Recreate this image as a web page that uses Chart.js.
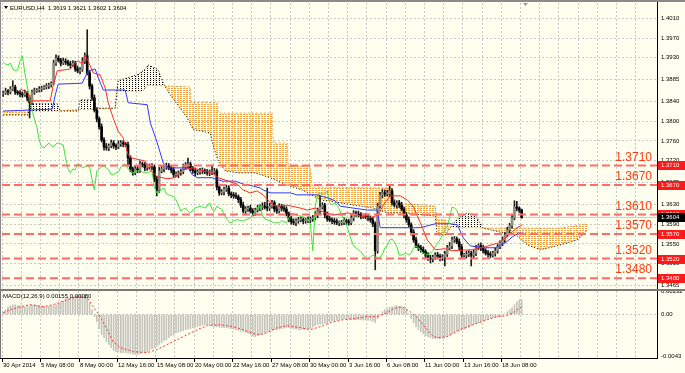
<!DOCTYPE html>
<html>
<head>
<meta charset="utf-8">
<script src="https://cdn.jsdelivr.net/npm/chart.js@4.4.1/dist/chart.umd.min.js"></script>
<style>
  html, body { margin: 0; padding: 0; background: #fffff0; }
  #wrap { position: relative; width: 685px; height: 373px; overflow: hidden; background: #fffff0; }
  #main { position: absolute; left: 0; top: 0; }
  #macd { position: absolute; left: 0; top: 289px; }
</style>
</head>
<body>
<div id="wrap">
  <canvas id="main" width="685" height="289"></canvas>
  <canvas id="macd" width="685" height="84"></canvas>
</div>
<script>
// EURUSD H4, prices kept in pips above 1.3000
const closePips = [
  858,862,860,866,870,860,858,856,854,858,
  848,838,860,862,864,866,868,870,872,874,
  878,919,929,925,919,923,921,917,915,919,
  907,903,905,923,934,899,872,848,823,805,
  789,762,748,746,750,756,750,748,754,756,
  754,752,725,703,695,703,701,713,711,705,
  707,709,707,682,660,699,703,707,709,705,
  701,691,691,695,697,707,711,713,703,699,
  695,697,699,699,697,695,695,697,699,666,
  654,656,662,664,652,650,648,646,640,629,
  617,621,623,617,613,619,623,625,627,625,
  623,627,634,621,617,627,623,621,611,601,
  595,593,597,599,599,597,597,599,601,603,
  609,617,625,629,609,601,599,597,595,593,
  593,593,597,595,593,603,613,611,609,607,
  607,605,603,599,591,536,627,650,654,652,
  652,658,634,629,634,629,621,609,599,589,
  574,558,546,542,538,534,527,521,519,523,
  527,525,521,523,529,542,546,558,560,554,
  544,527,527,529,531,527,531,542,546,542,
  536,531,529,527,531,536,544,552,558,568,
  578,587,603,625,623,619,604
];
const firstOpenPips = 856;
const wickUpPips = [
  4,6,3,5,13,4,3,5,4,6, 3,5,4,6,3,5,4,3,5,4,
  3,6,7,5,4,6,5,4,6,5, 4,6,5,7,6,53,5,4,6,5,
  4,6,5,7,4,6,5,4,6,5, 4,3,6,5,4,7,5,6,4,5,
  6,4,5,4,6,7,5,4,6,5, 4,5,6,4,5,6,5,12,4,5,
  6,4,5,6,4,5,6,14,5,4, 6,5,4,6,5,4,5,6,4,5,
  6,5,4,6,5,4,6,5,7,8, 39,6,5,4,6,5,4,6,5,4,
  5,6,4,5,6,4,5,6,4,5, 7,6,23,5,4,6,5,4,5,6,
  4,5,6,4,5,6,5,4,6,5, 4,5,6,4,5,4,6,5,7,6,
  8,10,5,6,4,5,6,4,5,6, 4,5,6,4,5,6,4,5,6,4,
  5,6,4,5,6,5,7,6,5,4, 6,5,4,6,5,4,6,5,4,6,
  5,4,6,5,4,6,5,4,6,5, 6,5,7,13,12,3,2
];
const wickDnPips = [
  5,3,6,4,3,5,4,6,5,3, 6,31,4,5,3,4,5,3,4,5,
  4,3,5,4,6,3,5,4,6,3, 5,4,6,3,5,4,6,5,4,6,
  5,4,7,5,6,4,5,6,4,5, 6,4,16,6,5,4,6,5,4,6,
  5,4,6,5,12,5,4,6,5,4, 6,5,4,6,5,4,5,6,4,5,
  6,4,5,6,4,5,6,4,5,6, 5,4,6,5,4,6,5,4,6,5,
  4,6,5,4,6,5,4,6,5,4, 6,5,4,6,5,4,6,5,4,6,
  5,4,6,5,4,6,5,4,6,5, 4,6,5,4,6,5,4,6,5,4,
  6,5,4,6,5,4,6,5,4,6, 5,4,6,5,6,39,5,4,6,5,
  4,6,5,4,6,5,4,6,5,4, 6,5,4,6,5,4,6,5,8,6,
  5,4,6,5,18,5,4,6,5,4, 6,5,4,6,5,22,6,5,4,6,
  5,4,6,5,4,6,5,4,6,5, 4,6,5,4,6,5,2
];

// Ichimoku lines, read as vertices (bar index, pips)
const tenkanBars = [7.1,10.4,11.3,12.1,19.6,20.8,22.5,27.9,30.8,32.9,34.2,35.4,37.5,40.4,42.5,43.8,45.8,47.9,50,52.1,53.8,59.2,60.4,64.2,68.3,71.7,74.6,78.8,83.3,87.1,89.6,93.8,97.5,100,102.9,105.8,108.3,112.5,115.4,118.3,123.8,126.7,130,132.1,137.5,143.8,148.8,152.9,156.3,158.3,161.3,165.4,168.3,170.8,173.8,176.7,180,184.2,187.1,195.4,200.8,206.3,210.4,213.3,216.3];
const tenkanPips = [866,858,838,842,842,872,903,907,923,919,934,923,899,895,868,838,807,780,766,731,725,719,705,687,683,685,701,705,699,695,685,678,672,660,654,658,650,629,627,629,623,619,623,617,609,613,607,603,609,629,648,648,640,627,593,558,538,540,536,538,544,552,566,580,589];
const kijunBars = [0,20.4,21.7,22.9,32.9,35.4,38.3,39.6,41.7,50.8,52.1,60,61.3,64.2,66.7,68.3,77.1,78.8,80.8,87.1,91.3,96.7,100,104.2,107.1,108.3,111.3,119.6,122.5,130.8,135,138.3,140.4,145.8,151.7,155.8,157.1,173.8,180,186.3,189.2,191.7,194.6,199.6,205,209.2,212.1,214.6,216.3];
const kijunPips = [821,825,854,876,878,903,907,889,864,864,838,834,797,756,715,705,705,691,685,685,678,678,672,668,664,660,654,654,650,650,644,638,627,623,619,619,583,583,591,591,589,562,546,542,542,552,564,572,572];
const spanABars = [0,10.4,11.25,22.5,23.75,31.25,32.1,37.5,38.75,46.7,47.9,51.7,55.8,58.3,60.4,63.3,64.6,66.7,69.6,73.75,76.7,79.2,82.9,86.25,87.5,89.6,92.5,97.9,105,111.25,118.3,124.6,132.1,154.2,160.4,165.4,180,180.8,184.2,187.1,189.6,193.3,196.7,200,207.1,214.2,218.3,223.75,230.8,239.2,243.3];
const spanAPips = [813,813,836,836,821,821,844,844,827,827,883,889,895,903,915,909,905,878,854,827,807,783,780,776,750,719,699,695,695,685,670,660,640,623,613,613,607,568,568,589,603,613,609,582,574,566,548,538,546,558,578];
const spanBBars = [0,22.5,26.7,46.7,47.1,58.3,60,77.9,78.3,89.2,89.6,112.1,112.5,118.3,118.75,127.9,128.75,162.1,162.9,180,180.8,184.2,185,200,232.1,243.3];
const spanBPips = [821,821,823,827,862,862,874,870,838,838,817,817,756,756,709,709,666,664,634,627,599,599,585,582,582,591];
const chikouShift = 26;

// MACD(12,26,9), histogram per bar in 1e-5
const macdHist = [
  28,49,79,90,100,100,90,90,84,79, 79,90,100,100,95,90,90,84,79,84,
  90,90,100,110,120,140,161,171,176,181, 191,196,202,202,202,171,120,49,-22,-73,
  -145,-206,-236,-277,-307,-338,-368,-379,-384,-389, -389,-389,-394,-399,-404,-409,-409,-399,-389,-384,
  -379,-363,-348,-338,-328,-307,-287,-267,-257,-236, -216,-206,-185,-180,-175,-165,-155,-150,-145,-134,
  -129,-124,-114,-109,-104,-104,-109,-114,-124,-124, -129,-134,-134,-134,-139,-145,-150,-155,-165,-170,
  -175,-185,-190,-206,-221,-226,-216,-206,-195,-185, -175,-165,-160,-155,-155,-150,-145,-139,-134,-134,
  -139,-145,-150,-155,-155,-150,-150,-145,-145,-129, -114,-104,-99,-94,-89,-83,-73,-68,-63,-58,
  -53,-48,-43,-43,-48,-53,-53,-53,-53,-53, -58,-53,-58,-63,-68,-83,-43,-2,29,49,
  59,74,79,84,90,84,79,69,49,8, -43,-83,-124,-155,-175,-195,-216,-226,-236,-246,
  -246,-246,-246,-241,-231,-226,-216,-195,-185,-170, -160,-155,-150,-139,-129,-114,-104,-94,-83,-73,
  -63,-53,-43,-38,-33,-27,-22,-17,-2,8, 29,49,69,100,130,151,155
];
const signalBars = [0,2.9,7.1,11.25,16.7,20.8,26.7,30.8,35,37.5,40.4,43.3,45.8,48.75,54.2,60,64.2,68.3,72.5,76.7,80.8,85,90.4,95.8,100,104.2,107.1,110,114.2,118.3,123.75,127.9,132.1,136.25,141.7,145.8,151.7,155.8,160,162.5,166.25,169.6,172.5,176.7,179.2,182.1,185,190.4,195.8,201.7,205.8,210,212.5,216];
const signalVals = [18,49,79,100,79,100,151,181,171,79,-22,-155,-277,-338,-379,-389,-358,-307,-257,-206,-155,-114,-104,-124,-155,-195,-206,-185,-134,-114,-134,-155,-124,-83,-53,-43,-22,-22,18,59,79,29,-33,-155,-226,-236,-226,-155,-104,-53,-22,-12,18,80];

const levels = [1.3710, 1.3670, 1.3610, 1.3570, 1.3520, 1.3480];
const priceTicks = [1.4010, 1.3970, 1.3930, 1.3885, 1.3840, 1.3800, 1.3760, 1.3720, 1.3675, 1.3630, 1.3590, 1.3550, 1.3510, 1.3465];
const macdTicks = [0.00232, 0, -0.0043];
const macdTickLabels = ['0.00232', '0.00', '-0.0043'];
const timeLabels = ['30 Apr 2014','5 May 08:00','8 May 00:00','12 May 16:00','15 May 08:00','20 May 00:00','22 May 16:00','27 May 08:00','30 May 00:00','3 Jun 16:00','6 Jun 08:00','11 Jun 00:00','13 Jun 16:00','18 Jun 08:00'];

const X_MIN = -0.5, X_MAX = 272.4;
const gridBars = [];
for (let v = X_MIN; v < 270; v += 8) gridBars.push(v);

const toPrice = p => +(1.3 + p / 10000).toFixed(4);
const closes = closePips.map(toPrice);
const openPips = closePips.map((c, i) => i ? closePips[i - 1] : firstOpenPips);
const opens = openPips.map(toPrice);
const highs = closePips.map((c, i) => toPrice(Math.max(c, openPips[i]) + wickUpPips[i]));
const lows = closePips.map((c, i) => toPrice(Math.min(c, openPips[i]) - wickDnPips[i]));
const last = closes.length - 1;
const pts = (xs, ys, f) => xs.map((x, i) => ({ x: x, y: f(ys[i]) }));

const FONT = '"Liberation Sans", Arial, sans-serif';
const mainCanvas = document.getElementById('main');
const mctx = mainCanvas.getContext('2d');

function dotPattern(color, w, h, dw, dh) {
  const t = document.createElement('canvas');
  t.width = w; t.height = h;
  const g = t.getContext('2d');
  g.fillStyle = color;
  g.fillRect(0, 0, dw, dh);
  return mctx.createPattern(t, 'repeat');
}
const orangeDots = dotPattern('#f5a03c', 3, 2, 2, 1);
const blackDots = dotPattern('#000000', 3, 2, 1, 1);

// keep tick labels from shrinking the plot area
const fitRight = s => { s.width = 28; s.paddingTop = 0; s.paddingBottom = 0; };

const mainDecor = {
  id: 'mainDecor',
  afterDatasetsDraw(chart) {
    const { ctx, scales: { y } } = chart;
    ctx.save();
    ctx.font = '12px ' + FONT;
    ctx.fillStyle = '#ff3a10';
    ctx.textAlign = 'right';
    ctx.textBaseline = 'middle';
    levels.forEach(l => ctx.fillText(l.toFixed(4), 652, y.getPixelForValue(l) - 8));
    ctx.restore();
  },
  afterDraw(chart) {
    const { ctx, chartArea: a, scales: { y } } = chart;
    ctx.save();
    ctx.fillStyle = '#8a8a8a';
    ctx.fillRect(0, 0, 685, 2);
    ctx.fillRect(0, 0, 1, 289);
    ctx.fillStyle = '#000';
    ctx.fillRect(a.right, 2, 1, 287);
    ctx.font = '6px ' + FONT;
    ctx.textBaseline = 'middle';
    ctx.textAlign = 'left';
    const tag = (v, bg) => {
      const py = Math.round(y.getPixelForValue(v));
      ctx.fillStyle = bg;
      ctx.fillRect(a.right + 1, py - 4, 27, 9);
      ctx.fillStyle = '#fff';
      ctx.fillText(v.toFixed(4), a.right + 4, py + 0.5);
    };
    levels.forEach(l => tag(l, '#ff1a1a'));
    tag(closes[last], '#000');
    ctx.fillStyle = '#000';
    ctx.beginPath();
    ctx.moveTo(4, 6); ctx.lineTo(8, 6); ctx.lineTo(6, 9); ctx.closePath(); ctx.fill();
    ctx.fillText('EURUSD,H4  ' + [opens[last], highs[last], lows[last], closes[last]].map(v => v.toFixed(4)).join(' '), 10, 8);
    ctx.fillStyle = '#9a9a9a';
    ctx.beginPath();
    ctx.moveTo(523, 3); ctx.lineTo(528, 3); ctx.lineTo(525.5, 6); ctx.closePath(); ctx.fill();
    ctx.restore();
  }
};

const lineDs = (data, color, extra) => Object.assign({
  type: 'line', data: data, borderColor: color, borderWidth: 1,
  pointRadius: 0, fill: false, tension: 0
}, extra);

const datasets = [
  lineDs(pts(spanBBars, spanBPips, toPrice), '#f0a040', { borderDash: [2, 2], order: 10 }),
  lineDs(pts(spanABars, spanAPips, toPrice), '#000', {
    borderDash: [1, 2], order: 9,
    fill: { target: 0, above: blackDots, below: orangeDots }
  }),
  lineDs([{ x: X_MIN, y: closes[last] }, { x: X_MAX, y: closes[last] }], '#c8c8c8', { order: 8 }),
  {
    type: 'bar', label: 'wicks', order: 6, grouped: false, barThickness: 1,
    data: closes.map((c, i) => ({ x: i, y: [lows[i], highs[i]] })),
    backgroundColor: '#1e1e1e', borderWidth: 0
  },
  {
    type: 'bar', label: 'bodies', order: 5, grouped: false, barThickness: 2, minBarLength: 1,
    data: closes.map((c, i) => ({ x: i, y: [opens[i], c] })),
    backgroundColor: closes.map((c, i) => c >= opens[i] ? '#8e8e80' : '#000'),
    borderWidth: 0
  },
  lineDs(closes.slice(chikouShift).map((c, k) => ({ x: k, y: c })), '#3ce23c', { order: 3 }),
  lineDs(pts(kijunBars, kijunPips, toPrice), '#3434ff', { order: 2 }),
  lineDs(pts(tenkanBars, tenkanPips, toPrice), '#ff2a2a', { order: 1 })
];
levels.forEach(l => datasets.push(lineDs([{ x: X_MIN, y: l }, { x: X_MAX, y: l }], '#ff6a6a',
  { borderWidth: 2, borderDash: [8, 4], order: 0 })));

const xScale = {
  type: 'linear', min: X_MIN, max: X_MAX, offset: false,
  afterBuildTicks: s => { s.ticks = gridBars.map(v => ({ value: v })); },
  afterFit: s => { s.height = 0; s.paddingLeft = 0; s.paddingRight = 0; },
  ticks: { display: false, autoSkip: false },
  grid: { color: '#c8c8c8', drawTicks: false, offset: false },
  border: { display: false, dash: [2, 2] }
};

new Chart(mainCanvas, {
  type: 'bar',
  data: { datasets: datasets },
  options: {
    responsive: false, animation: false, devicePixelRatio: 1, events: [],
    layout: { padding: { left: 2, top: 3, right: 0, bottom: 1 } },
    plugins: { legend: { display: false }, tooltip: { enabled: false } },
    scales: {
      x: xScale,
      y: {
        position: 'right', min: 1.345989, max: 1.404164,
        afterBuildTicks: s => { s.ticks = priceTicks.map(v => ({ value: v })); },
        afterFit: fitRight,
        ticks: { autoSkip: false, padding: 4, color: '#000', font: { size: 6, family: FONT },
                 callback: v => v.toFixed(4) },
        grid: { color: '#c8c8c8', drawTicks: false },
        border: { display: false, dash: [2, 2] }
      }
    }
  },
  plugins: [mainDecor]
});

const macdDecor = {
  id: 'macdDecor',
  afterDraw(chart) {
    const { ctx, chartArea: a, scales: { x } } = chart;
    ctx.save();
    ctx.fillStyle = '#7a7a7a';
    ctx.fillRect(0, 0, 685, 2);
    ctx.fillRect(0, 0, 1, 70);
    ctx.fillStyle = '#000';
    ctx.fillRect(a.right, 2, 1, 68);
    ctx.fillRect(0, a.bottom, a.right + 1, 1);
    ctx.font = '6px ' + FONT;
    ctx.textBaseline = 'middle';
    ctx.textAlign = 'left';
    ctx.fillText('MACD(12,26,9) ' + (macdHist[last] / 1e5).toFixed(5) + ' ' +
      (signalVals[signalVals.length - 1] / 1e5).toFixed(5), 3, 7);
    timeLabels.forEach((t, j) => {
      const px = Math.round(x.getPixelForValue(X_MIN + 16 * j));
      ctx.fillRect(px, a.bottom + 1, 1, 3);
      ctx.fillText(t, px + 1, 76);
    });
    ctx.restore();
  }
};

new Chart(document.getElementById('macd'), {
  type: 'bar',
  data: {
    datasets: [
      {
        type: 'bar', order: 2, grouped: false, barThickness: 1,
        data: macdHist.map((v, i) => ({ x: i, y: v / 1e5 })),
        backgroundColor: '#c4c4bc', borderWidth: 0
      },
      lineDs(signalBars.map((b, i) => ({ x: b, y: signalVals[i] / 1e5 })), '#ff3030',
        { borderDash: [2, 2], order: 1 })
    ]
  },
  options: {
    responsive: false, animation: false, devicePixelRatio: 1, events: [],
    layout: { padding: { left: 2, top: 2, right: 0, bottom: 15 } },
    plugins: { legend: { display: false }, tooltip: { enabled: false } },
    scales: {
      x: xScale,
      y: {
        position: 'right', min: -0.00444, max: 0.0024,
        afterBuildTicks: s => { s.ticks = macdTicks.map(v => ({ value: v })); },
        afterFit: fitRight,
        ticks: { autoSkip: false, padding: 4, color: '#000', font: { size: 6, family: FONT },
                 callback: (v, i) => macdTickLabels[i] },
        grid: { color: c => c.tick && c.tick.value === 0 ? '#c0c0c0' : 'rgba(0,0,0,0)', drawTicks: false },
        border: { display: false, dash: [2, 2] }
      }
    }
  },
  plugins: [macdDecor]
});
</script>
</body>
</html>
